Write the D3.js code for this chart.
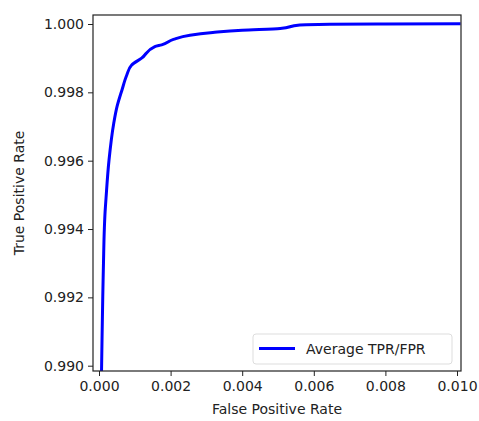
<!DOCTYPE html>
<html>
<head>
<meta charset="utf-8">
<script src="https://cdn.jsdelivr.net/npm/d3@7"></script>
<style>
  body { margin: 0; background: #fff; }
  svg text { font-family: "DejaVu Sans", sans-serif; fill: #222; }
</style>
</head>
<body>
<svg width="479" height="421"></svg>
<script>
var fpr = [0.00004, 0.00007, 0.000105, 0.000125, 0.00015, 0.00017, 0.000196, 0.00028, 0.000411, 0.000503,
  0.000642, 0.000774, 0.000913, 0.00119, 0.00156, 0.00175, 0.00208, 0.00254, 0.00318, 0.0040,
  0.00506, 0.00561, 0.00645, 0.0080, 0.0101];
var tpr = [0.9880, 0.9898, 0.99202, 0.99300, 0.99403, 0.99450, 0.99490, 0.99602, 0.99709, 0.99758,
  0.99807, 0.99850, 0.99880, 0.99900, 0.99934, 0.99939, 0.99955, 0.99967, 0.99975, 0.99982,
  0.99987, 0.99997, 0.99999, 1.0, 1.00001];
var xTicks = [0, 0.002, 0.004, 0.006, 0.008, 0.010];
var yTicks = [0.990, 0.992, 0.994, 0.996, 0.998, 1.000];

var svg = d3.select("svg");
var pl = 93, pr = 461, pt = 15, pb = 371;

var x = d3.scaleLinear().domain([0, 0.01]).range([99, 457]);
var y = d3.scaleLinear().domain([0.99, 1.0]).range([365.7, 24]);

svg.append("clipPath").attr("id", "clip")
  .append("rect").attr("x", pl).attr("y", pt)
  .attr("width", pr - pl).attr("height", pb - pt);

var pts = fpr.map(function(d, i) { return [d, tpr[i]]; });
var line = d3.line()
  .x(function(d) { return x(d[0]); })
  .y(function(d) { return y(d[1]); })
  .curve(d3.curveMonotoneY);

svg.append("path")
  .datum(pts)
  .attr("clip-path", "url(#clip)")
  .attr("d", line)
  .attr("fill", "none")
  .attr("stroke", "#0000ff")
  .attr("stroke-width", 3)
  .attr("stroke-linejoin", "round");

// axes
var xAxis = svg.append("g").attr("transform", "translate(0," + pb + ")")
  .call(d3.axisBottom(x).tickValues(xTicks).tickFormat(d3.format(".3f")).tickSize(5).tickPadding(4));
var yAxis = svg.append("g").attr("transform", "translate(" + pl + ",0)")
  .call(d3.axisLeft(y).tickValues(yTicks).tickFormat(d3.format(".3f")).tickSize(5).tickPadding(4));
[xAxis, yAxis].forEach(function(a) {
  a.select(".domain").remove();
  a.selectAll("line").attr("stroke", "#222").attr("stroke-width", 1);
  a.selectAll("text").style("font-size", "14px").attr("fill", "#222");
});
xAxis.selectAll("text").attr("dy", "0.75em");

svg.append("rect").attr("x", pl).attr("y", pt)
  .attr("width", pr - pl).attr("height", pb - pt)
  .attr("fill", "none").attr("stroke", "#222").attr("stroke-width", 1.2);

svg.append("text").attr("x", (pl + pr) / 2).attr("y", 414)
  .attr("text-anchor", "middle").style("font-size", "14px").text("False Positive Rate");
svg.append("text")
  .attr("transform", "translate(24," + (pt + pb) / 2 + ") rotate(-90)")
  .attr("text-anchor", "middle").style("font-size", "14px").text("True Positive Rate");

// legend
var lg = svg.append("g");
lg.append("rect").attr("x", 253).attr("y", 334).attr("width", 199).attr("height", 30)
  .attr("rx", 3).attr("fill", "#fff").attr("stroke", "#ddd");
lg.append("line").attr("x1", 259).attr("x2", 295).attr("y1", 348.5).attr("y2", 348.5)
  .attr("stroke", "#0000ff").attr("stroke-width", 3);
lg.append("text").attr("x", 306).attr("y", 354).style("font-size", "14px").text("Average TPR/FPR");
</script>
</body>
</html>
